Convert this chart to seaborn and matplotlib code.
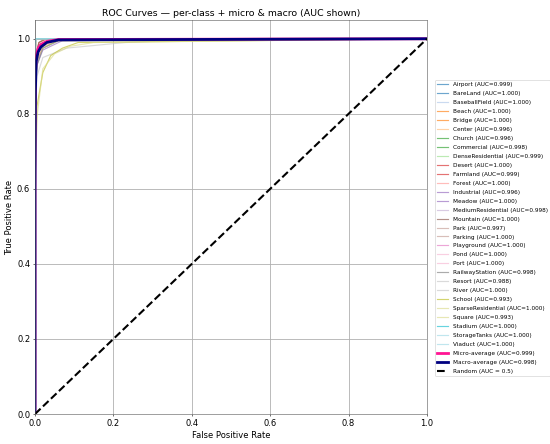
import matplotlib
matplotlib.use("Agg")
import matplotlib.pyplot as plt
from matplotlib.colors import to_hex
import seaborn as sns
import numpy as np
import pandas as pd

classes = ["Airport", "BareLand", "BaseballField", "Beach", "Bridge", "Center",
           "Church", "Commercial", "DenseResidential", "Desert", "Farmland",
           "Forest", "Industrial", "Meadow", "MediumResidential", "Mountain",
           "Park", "Parking", "Playground", "Pond", "Port", "RailwayStation",
           "Resort", "River", "School", "SparseResidential", "Square",
           "Stadium", "StorageTanks", "Viaduct"]
aucs = [0.999, 1.000, 1.000, 1.000, 1.000, 0.996, 0.996, 0.998, 0.999, 1.000,
        0.999, 1.000, 0.996, 1.000, 0.998, 1.000, 0.997, 1.000, 1.000, 1.000,
        1.000, 0.998, 0.988, 1.000, 0.993, 1.000, 0.993, 1.000, 1.000, 1.000]

# rough ROC points (fpr, tpr)
fpr_pts = [
    [0, 0, 0.003, 0.01, 0.025, 1],      # Airport
    [0, 0, 0.002, 1],                   # BareLand
    [0, 0, 0.003, 1],                   # BaseballField
    [0, 0, 0.002, 1],                   # Beach
    [0, 0, 0.003, 1],                   # Bridge
    [0, 0, 0.005, 0.02, 0.06, 1],       # Center
    [0, 0, 0.005, 0.02, 0.06, 1],       # Church
    [0, 0, 0.004, 0.015, 0.04, 1],      # Commercial
    [0, 0, 0.003, 0.01, 0.03, 1],       # DenseResidential
    [0, 0, 0.002, 1],                   # Desert
    [0, 0, 0.003, 0.01, 0.03, 1],       # Farmland
    [0, 0, 0.002, 1],                   # Forest
    [0, 0, 0.005, 0.02, 0.07, 1],       # Industrial
    [0, 0, 0.003, 1],                   # Meadow
    [0, 0, 0.004, 0.015, 0.05, 1],      # MediumResidential
    [0, 0, 0.002, 1],                   # Mountain
    [0, 0, 0.005, 0.02, 0.06, 1],       # Park
    [0, 0, 0.003, 1],                   # Parking
    [0, 0, 0.002, 1],                   # Playground
    [0, 0, 0.003, 1],                   # Pond
    [0, 0, 0.004, 1],                   # Port
    [0, 0, 0.004, 0.015, 0.05, 1],      # RailwayStation
    [0, 0, 0.005, 0.02, 0.08, 0.23, 0.34, 1],  # Resort
    [0, 0, 0.004, 1],                   # River
    [0, 0, 0.005, 0.02, 0.04, 0.07, 0.11, 1],  # School
    [0, 0, 0.003, 1],                   # SparseResidential
    [0, 0, 0.006, 0.02, 0.05, 0.09, 0.15, 1],  # Square
    [0, 0, 0.002, 1],                   # Stadium
    [0, 0, 0.002, 1],                   # StorageTanks
    [0, 0, 0.003, 1],                   # Viaduct
]
tpr_pts = [
    [0, 0.9, 0.96, 0.99, 1.0, 1],
    [0, 0.97, 1.0, 1],
    [0, 0.96, 1.0, 1],
    [0, 0.98, 1.0, 1],
    [0, 0.96, 1.0, 1],
    [0, 0.85, 0.94, 0.98, 0.995, 1],
    [0, 0.84, 0.93, 0.975, 0.995, 1],
    [0, 0.88, 0.95, 0.985, 1.0, 1],
    [0, 0.9, 0.96, 0.99, 1.0, 1],
    [0, 0.98, 1.0, 1],
    [0, 0.9, 0.96, 0.99, 1.0, 1],
    [0, 0.98, 1.0, 1],
    [0, 0.83, 0.93, 0.97, 0.995, 1],
    [0, 0.97, 1.0, 1],
    [0, 0.87, 0.95, 0.985, 0.997, 1],
    [0, 0.98, 1.0, 1],
    [0, 0.85, 0.94, 0.975, 0.995, 1],
    [0, 0.96, 1.0, 1],
    [0, 0.97, 1.0, 1],
    [0, 0.96, 1.0, 1],
    [0, 0.95, 1.0, 1],
    [0, 0.87, 0.95, 0.985, 1.0, 1],
    [0, 0.78, 0.9, 0.95, 0.975, 0.99, 0.995, 1],
    [0, 0.95, 1.0, 1],
    [0, 0.66, 0.82, 0.91, 0.955, 0.975, 0.99, 1],
    [0, 0.96, 1.0, 1],
    [0, 0.62, 0.8, 0.92, 0.96, 0.98, 0.99, 1],
    [0, 0.98, 1.0, 1],
    [0, 0.98, 1.0, 1],
    [0, 0.96, 1.0, 1],
]

micro_fpr = [0, 0, 0.001, 0.003, 0.008, 0.015, 0.03, 0.06, 1]
micro_tpr = [0, 0.65, 0.9, 0.955, 0.975, 0.985, 0.993, 0.998, 1]
micro_auc = 0.999
macro_fpr = [0, 0, 0.001, 0.003, 0.008, 0.015, 0.03, 0.06, 1]
macro_tpr = [0, 0.6, 0.86, 0.94, 0.965, 0.978, 0.99, 0.997, 1]
macro_auc = 0.998

# long table for seaborn, one group per class
rows = []
for i, name in enumerate(classes):
    lab = f"{name} (AUC={aucs[i]:.3f})"
    for f, t in zip(fpr_pts[i], tpr_pts[i]):
        rows.append({"fpr": f, "tpr": t, "curve": lab})
roc_df = pd.DataFrame(rows)
labels = list(dict.fromkeys(roc_df["curve"]))

cmap = plt.get_cmap("tab20")
colors = [to_hex(c) for c in cmap(np.linspace(0, 1, len(classes)))]

fig = plt.figure(figsize=(11, 8.88), dpi=50)
ax = fig.add_axes([35 / 550, 1 - 414 / 444, 392 / 550, 394 / 444])

sns.lineplot(data=roc_df, x="fpr", y="tpr", hue="curve", hue_order=labels,
             palette=colors, ax=ax, sort=False, estimator=None,
             alpha=0.65, linewidth=1.7)

sns.lineplot(x=micro_fpr, y=micro_tpr, ax=ax, sort=False, estimator=None,
             color="deeppink", linewidth=4, label=f"Micro-average (AUC={micro_auc:.3f})")
sns.lineplot(x=macro_fpr, y=macro_tpr, ax=ax, sort=False, estimator=None,
             color="navy", linewidth=4, label=f"Macro-average (AUC={macro_auc:.3f})")
ax.plot([0, 1], [0, 1], "k--", linewidth=3, label="Random (AUC = 0.5)")

ax.set_xlim(0, 1)
ax.set_ylim(0, 1.05)
ax.set_xlabel("False Positive Rate", fontsize=12)
ax.set_ylabel("True Positive Rate", fontsize=12)
ax.tick_params(labelsize=12)
ax.set_title("ROC Curves — per-class + micro & macro (AUC shown)", fontsize=13.5)
ax.grid(True, linewidth=1.2)
for s in ax.spines.values():
    s.set_color("#555555")
handles, labs = ax.get_legend_handles_labels()
ax.legend(handles, labs, loc="center left", bbox_to_anchor=(1.012, 0.472),
          fontsize=8.3, labelspacing=0.68, title=None)
fig.savefig("out.png", dpi=50)
